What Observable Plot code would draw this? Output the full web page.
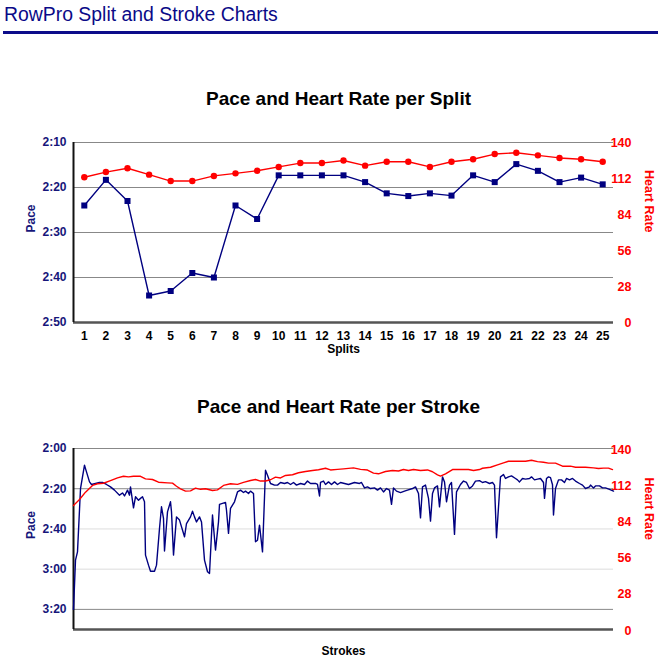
<!DOCTYPE html>
<html><head><meta charset="utf-8">
<script src="https://cdn.jsdelivr.net/npm/d3@7"></script>
<script src="https://cdn.jsdelivr.net/npm/@observablehq/plot@0.6"></script>
<style>
body{margin:0;background:#fff;font-family:"Liberation Sans",Arial,Helvetica,sans-serif;}
#wrap{position:relative;width:666px;height:669px;overflow:hidden;background:#fff;}
#head{position:absolute;left:4px;top:3px;margin:0;font-size:19.4px;line-height:22px;font-weight:normal;color:#0a0a88;white-space:nowrap;}
#rule{position:absolute;left:3px;top:31px;width:655px;height:3px;background:#0c0c8a;}
.title{position:absolute;left:0;width:677px;text-align:center;font-weight:bold;font-size:19px;line-height:22px;color:#000;}
</style></head>
<body>
<div id="wrap">
  <div id="head">RowPro Split and Stroke Charts</div>
  <div id="rule"></div>
  <div class="title" style="top:88px">Pace and Heart Rate per Split</div>
  <div class="title" style="top:396px">Pace and Heart Rate per Stroke</div>
</div>
<script>
// ---------- data ----------
const splits = [1,2,3,4,5,6,7,8,9,10,11,12,13,14,15,16,17,18,19,20,21,22,23,24,25];
// pace in seconds per 500m
const splitPace = [144,138.3,143,164,163,159,160,144,147,137.3,137.3,137.3,137.3,138.8,141.3,141.9,141.3,141.8,137.3,138.8,134.8,136.3,138.8,137.8,139.3];
const splitHR = [113,117,120,115,110,110,114,116,118,121,124,124,126,122,125,125,121,125,127,131,132,130,128,127,125];
const splitPaceTicks = [130,140,150,160,170];
const hrTicks = [0,28,56,84,112,140];

const strokeNum = [0,2,4,7,11,12,16,18,22,26,29,33,37,41,46,49,51,54,56,57,60,62,65,67,69,71,72,75,77,81,83,86,88,90,91,94,97,98,100,103,106,111,113,117,119,121,123,126,128,131,134,136,139,142,145,146,149,152,153,155,157,161,164,167,170,172,175,177,180,182,184,186,189,192,194,197,201,204,207,211,214,217,220,223,227,231,234,237,242,244,246,247,250,252,255,258,261,264,267,271,275,281,286,288,291,294,297,301,304,307,310,313,316,318,320,323,327,331,334,339,342,345,347,349,352,355,357,359,361,364,366,369,371,373,376,378,381,383,387,390,393,396,399,402,406,409,412,416,419,421,423,426,427,430,432,435,438,442,444,446,449,452,456,458,461,464,467,470,471,473,475,477,479,480,482,485,488,491,493,496,499,502,506,509,512,516,517,520,522,526,529,532,536,540];
const strokePace = [200,175.5,171.4,140,128.3,130,136.6,137.9,137.4,136.9,136.9,137.9,139.1,140.7,143.2,142.1,143.6,140.7,143.2,139.1,149.5,144,145.7,144.8,144,146.5,173,178,181,181,178,159.8,149,154.8,171,151.5,146.5,151.5,173,154,155.6,163.9,157.3,154,151.2,154,156.5,154,156.5,175.5,181.3,182.1,153.1,170.5,156.5,147.8,147.3,146.8,150.7,162.2,149.8,146.5,141.6,140.7,141.9,141.2,142.4,141.2,142.4,166.4,165.6,158.1,171.4,130.8,133.3,137.4,138.2,138.2,136.9,137.4,136.9,137.9,136.9,138.2,137.4,137.9,136.2,137.4,137.4,137.9,143.6,136.9,136.2,137.9,136.6,137.9,136.6,137.9,136.9,137.4,137.9,136.9,137.4,136.9,139.6,139.1,139.9,139.6,140.7,139.6,141.6,139.9,140.7,147.8,139.6,141.2,141.9,141.2,140.7,139.9,139.1,142.4,154.5,139.1,138.2,144.8,156.1,142.4,139.6,138.6,149,134.1,136.6,146.5,138.2,136.9,162.7,141.6,137.9,136.2,136.9,139.9,138.6,136.2,136,136.9,136.5,137.4,136.9,138.2,164.4,141.6,134.1,132.9,134.9,134.1,133.6,134.9,135.6,136.6,134.9,135.2,134.9,134.1,135.6,135.2,134.9,136.9,144.8,134.9,134.1,134.5,138,153.1,139.9,135.6,135.6,136.9,134.9,135.6,134.9,136.2,137.4,138.2,139.9,139.1,138.2,139.6,138.6,138.6,139.6,139.6,140.3,141.2];
const strokePaceTicks = [120,140,160,180,200];

const hrStrokeNum = [0,6,12,19,24,30,37,44,50,55,60,67,72,79,85,94,99,103,107,112,117,122,127,132,139,144,150,157,164,170,177,182,187,192,197,202,207,212,219,225,232,239,245,252,257,264,270,280,287,294,300,305,312,319,325,330,335,340,347,354,359,364,367,372,379,387,395,400,406,409,417,424,430,435,445,452,458,464,470,475,482,489,497,502,512,520,525,530,535,539];
const strokeHR = [96.7,101.3,107,112.2,113.5,113.9,116,118.1,119.3,118.8,119.3,119.3,117.3,116.8,114.7,114.2,114,111.6,109.6,107.8,108,110.1,109.2,109.6,108.3,108.8,112.2,113.5,113,114.6,116,116.8,115.6,115.6,116.6,118.6,118,119.9,120.5,122,123,123.8,124.3,125.5,124.2,124.6,125,125.8,124.6,124.1,121.7,121.2,123,123.8,123.4,124.5,123.8,124.5,123.8,124.2,122.8,120.4,119.4,121.2,124.5,124.5,124.5,123.8,124.5,125.5,126.3,128.1,129.7,130.9,130.9,130.9,131.7,130.6,130.1,129.5,129.5,127.1,127.1,126.3,126.3,125.8,125.3,125.6,125.6,124.5];

// ---------- drawing ----------
const FONT = "'Liberation Sans', Arial, Helvetica, sans-serif";
const NAVY = "#000080", LABEL_NAVY = "#16167a", RED = "#ff0000";
const paceFmt = s => { const m = Math.floor(s/60), r = Math.round(s - m*60); return m + ":" + String(r).padStart(2,"0"); };
const wrap = document.getElementById("wrap");
function place(svg, top){ svg.style.position = "absolute"; svg.style.left = "0px"; svg.style.top = top + "px"; wrap.appendChild(svg); }
const common = (h, mt, mb) => ({
  width: 666, height: h, marginTop: mt, marginBottom: mb, marginLeft: 73, marginRight: 53,
  style: {fontFamily: FONT, fontSize: "12px", fontWeight: "bold", background: "transparent", overflow: "visible"}
});

const splitRows = splits.map((s, i) => ({split: s, pace: splitPace[i], hr: splitHR[i]}));
const strokeRows = strokeNum.map((s, i) => ({s, pace: strokePace[i]}));
const hrRows = hrStrokeNum.map((s, i) => ({s, hr: strokeHR[i]}));

// top chart, pace layer
place(Plot.plot({
  ...common(250, 22, 48),
  x: {domain: [0.5, 25.5]},
  y: {domain: [130, 170], reverse: true},
  marks: [
    Plot.ruleY(splitPaceTicks.slice(0, 4), {stroke: "#888", strokeWidth: 1}),
    Plot.ruleY([170], {stroke: "#555", strokeWidth: 2.5}),
    Plot.ruleX([0.5], {stroke: "#111", strokeWidth: 2}),
    Plot.axisY({ticks: splitPaceTicks, tickFormat: paceFmt, tickSize: 0, tickPadding: 7, fill: LABEL_NAVY, label: null}),
    Plot.axisX({ticks: splits, tickFormat: d => String(d), tickSize: 0, tickPadding: 9, fill: "#000", label: null}),
    Plot.text(["Pace"], {text: d => d, frameAnchor: "left", dx: -42, rotate: -90, fill: LABEL_NAVY, fontWeight: "bold", fontSize: 12}),
    Plot.text(["Splits"], {text: d => d, frameAnchor: "bottom", dy: 30, fill: "#000", fontWeight: "bold", fontSize: 12}),
    Plot.line(splitRows, {x: "split", y: "pace", stroke: NAVY, strokeWidth: 1.4}),
    Plot.dot(splitRows, {x: "split", y: "pace", symbol: "square", r: 3.4, fill: NAVY})
  ]
}), 120);

// top chart, heart-rate layer
place(Plot.plot({
  ...common(250, 22, 48),
  x: {domain: [0.5, 25.5], axis: null},
  y: {domain: [0, 140]},
  marks: [
    Plot.axisY({anchor: "right", ticks: hrTicks, tickSize: 0, tickPadding: 18, textAnchor: "end", fill: RED, fontSize: 12.5, label: null}),
    Plot.text(["Heart Rate"], {text: d => d, frameAnchor: "right", dx: 35, rotate: 90, fill: RED, fontWeight: "bold", fontSize: 12.5}),
    Plot.line(splitRows, {x: "split", y: "hr", stroke: RED, strokeWidth: 1.4}),
    Plot.dot(splitRows, {x: "split", y: "hr", r: 3.2, fill: RED})
  ]
}), 120);

// bottom chart, pace layer
place(Plot.plot({
  ...common(239, 18, 40),
  x: {domain: [0, 540], axis: null},
  y: {domain: [120, 210], reverse: true},
  marks: [
    Plot.ruleY(strokePaceTicks.filter(d => d === 160 || d === 180), {stroke: "#ddd", strokeWidth: 1}),
    Plot.ruleY(strokePaceTicks.filter(d => d !== 160 && d !== 180), {stroke: "#888", strokeWidth: 1}),
    Plot.ruleY([210], {stroke: "#555", strokeWidth: 2.5}),
    Plot.ruleX([0], {stroke: "#111", strokeWidth: 2}),
    Plot.axisY({ticks: strokePaceTicks, tickFormat: paceFmt, tickSize: 0, tickPadding: 7, fill: LABEL_NAVY, label: null}),
    Plot.text(["Pace"], {text: d => d, frameAnchor: "left", dx: -42, rotate: -90, fill: LABEL_NAVY, fontWeight: "bold", fontSize: 12}),
    Plot.text(["Strokes"], {text: d => d, frameAnchor: "bottom", dy: 25, fill: "#000", fontWeight: "bold", fontSize: 12}),
    Plot.line(strokeRows, {x: "s", y: "pace", stroke: NAVY, strokeWidth: 1.4})
  ]
}), 430);

// bottom chart, heart-rate layer
place(Plot.plot({
  ...common(239, 19, 39),
  x: {domain: [0, 540], axis: null},
  y: {domain: [0, 140]},
  marks: [
    Plot.axisY({anchor: "right", ticks: hrTicks, tickSize: 0, tickPadding: 18, textAnchor: "end", fill: RED, fontSize: 12.5, label: null}),
    Plot.text(["Heart Rate"], {text: d => d, frameAnchor: "right", dx: 35, rotate: 90, fill: RED, fontWeight: "bold", fontSize: 12.5}),
    Plot.line(hrRows, {x: "s", y: "hr", stroke: RED, strokeWidth: 1.4})
  ]
}), 430);
</script>
</body></html>
